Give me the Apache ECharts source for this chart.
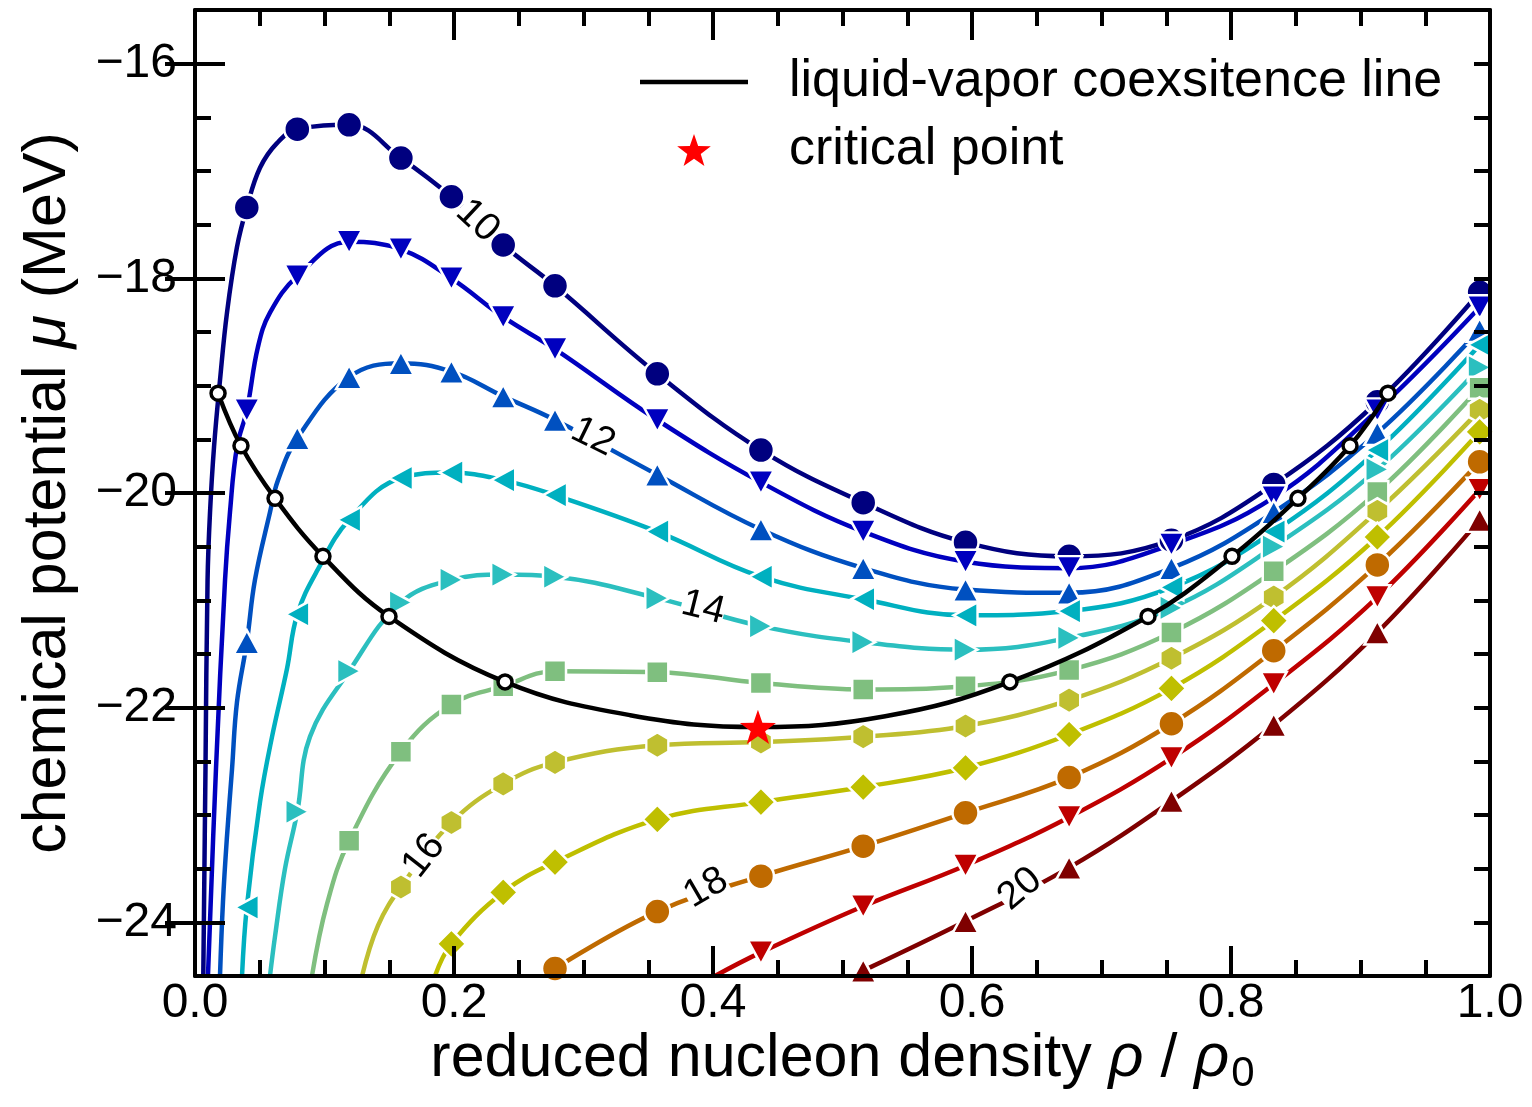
<!DOCTYPE html>
<html>
<head>
<meta charset="utf-8">
<script src="https://cdn.jsdelivr.net/npm/echarts@6/dist/echarts.min.js"></script>
<style>html,body{margin:0;padding:0;background:#fff}#chart{width:1532px;height:1107px}</style>
</head>
<body>
<div id="chart"></div>
<script>
// ---------------- data ----------------
const densities = [0.040, 0.079, 0.119, 0.159, 0.198, 0.238, 0.278, 0.357, 0.437, 0.516, 0.595, 0.675, 0.754, 0.833, 0.913, 0.992];
const temperatures = [10, 11, 12, 13, 14, 15, 16, 17, 18, 19, 20];

const mu10 = [-17.34, -16.61, -16.57, -16.88, -17.24, -17.69, -18.07, -18.89, -19.60, -20.09, -20.46, -20.59, -20.44, -19.92, -19.15, -18.13];
const mu11 = [-19.23, -17.98, -17.66, -17.73, -18.00, -18.36, -18.66, -19.32, -19.90, -20.36, -20.64, -20.70, -20.48, -20.04, -19.23, -18.27];
const mu12 = [-21.39, -19.49, -18.92, -18.79, -18.87, -19.10, -19.32, -19.83, -20.34, -20.70, -20.90, -20.93, -20.70, -20.18, -19.44, -18.48];
const mu13 = [-23.86, -21.13, -20.25, -19.86, -19.81, -19.88, -20.02, -20.36, -20.78, -20.99, -21.14, -21.10, -20.88, -20.36, -19.60, -18.62];
const mu14 = [null, -22.97, -21.66, -21.02, -20.81, -20.76, -20.78, -20.98, -21.24, -21.39, -21.46, -21.35, -21.07, -20.50, -19.78, -18.83];
const mu15 = [null, null, -23.24, -22.41, -21.97, -21.80, -21.66, -21.67, -21.77, -21.83, -21.80, -21.65, -21.30, -20.73, -19.99, -19.02];
const mu16 = [null, null, null, -23.67, -23.07, -22.71, -22.51, -22.35, -22.32, -22.27, -22.17, -21.93, -21.54, -20.97, -20.17, -19.23];
const mu17 = [null, null, null, null, -24.20, -23.72, -23.44, -23.04, -22.88, -22.74, -22.56, -22.25, -21.82, -21.19, -20.41, -19.43];
const mu18 = [null, null, null, null, null, null, -24.43, -23.90, -23.57, -23.29, -22.98, -22.65, -22.15, -21.47, -20.67, -19.71];
const mu19 = [null, null, null, null, null, null, null, null, -24.28, -23.85, -23.47, -23.02, -22.47, -21.78, -20.97, -19.97];
const mu20 = [null, null, null, null, null, null, null, null, null, -24.45, -23.99, -23.49, -22.87, -22.16, -21.30, -20.25];

// curve points read between / before the marked densities (no marker drawn)
const curve10 = [[0.0064, -24.50], [0.0081, -22.57], [0.0097, -20.81], [0.0116, -20.18], [0.0147, -19.57], [0.0193, -18.95], [0.0247, -18.32], [0.0324, -17.71], [0.0502, -16.97], [0.0633, -16.74]];
const curve11 = [[0.0100, -24.50], [0.0162, -22.57], [0.0232, -20.81], [0.0270, -20.18], [0.0324, -19.57], [0.0486, -18.64], [0.0579, -18.32]];
const curve12 = [[0.0193, -24.50], [0.0216, -23.81], [0.0247, -23.20], [0.0286, -22.57], [0.0324, -21.95], [0.0463, -20.81], [0.0579, -20.18], [0.0641, -19.88]];
const curve13 = [[0.0363, -24.50], [0.0502, -22.88], [0.0595, -22.27], [0.0710, -21.64], [0.0950, -20.71]];
const curve14 = [[0.0579, -24.50], [0.0618, -24.13], [0.0695, -23.50], [0.0888, -22.27]];
const curve15 = [[0.0903, -24.50], [0.1019, -23.83]];
const curve16 = [[0.1290, -24.50], [0.1413, -24.03]];
const curve17 = [[0.1853, -24.50]];
const curve18 = [];
const curve19 = [[0.4015, -24.50]];
const curve20 = [];

// liquid-vapor coexistence line (marked points) and the unmarked points along its bottom
const coexDensity = [0.0178, 0.0355, 0.0618, 0.0988, 0.1498, 0.2394, 0.6293, 0.7359, 0.8008, 0.8517, 0.8919, 0.9212];
const coexMu = [-19.07, -19.56, -20.05, -20.59, -21.15, -21.76, -21.76, -21.15, -20.59, -20.05, -19.56, -19.07];
const coexCurveDensity = [0.3360, 0.4347, 0.5330];
const coexCurveMu = [-22.07, -22.18, -22.08];
const criticalPoint = [0.4347, -22.18];

// contour labels (temperature in MeV) placed on the curves
const contourText = ['10', '12', '14', '16', '18', '20'];
const contourDensity = [0.2182, 0.3073, 0.3923, 0.1768, 0.3946, 0.6371];
const contourMu = [-17.465, -19.48, -21.07, -23.38, -23.68, -23.69];

const xTickValues = [0, 0.2, 0.4, 0.6, 0.8, 1.0];
const yTickValues = [-24, -22, -20, -18, -16];
const legendNames = ['liquid-vapor coexsitence line', 'critical point'];

// ---------------- styles ----------------
const FONT = '"Liberation Sans", Arial, Helvetica, sans-serif';
const colors = ['#00007f', '#0000bf', '#0050c0', '#00b0c0', '#2bbfbf', '#7fbf7f', '#bfbf30', '#bfbf00', '#bf6a00', '#bf0000', '#7f0000'];
const HEX = 'path://M0,-1L0.866,-0.5L0.866,0.5L0,1L-0.866,0.5L-0.866,-0.5Z';
function starPath() {
  let s = 'path://';
  for (let k = 0; k < 10; k++) {
    const r = k % 2 ? 0.40 : 1;
    const a = -Math.PI / 2 + k * Math.PI / 5;
    s += (k ? 'L' : 'M') + (r * Math.cos(a)).toFixed(4) + ',' + (r * Math.sin(a)).toFixed(4);
  }
  return s + 'Z';
}
const STAR = starPath();
const markerStyles = [
  { symbol: 'circle', size: 26, rotate: 0 },
  { symbol: 'triangle', size: [26, 24], rotate: 180 },
  { symbol: 'triangle', size: [26, 24], rotate: 0 },
  { symbol: 'triangle', size: [26, 24], rotate: 90 },
  { symbol: 'triangle', size: [26, 24], rotate: -90 },
  { symbol: 'rect', size: 22, rotate: 0 },
  { symbol: HEX, size: [22, 26], rotate: 0 },
  { symbol: 'diamond', size: 29, rotate: 0 },
  { symbol: 'circle', size: 26, rotate: 0 },
  { symbol: 'triangle', size: [26, 24], rotate: 180 },
  { symbol: 'triangle', size: [26, 24], rotate: 0 }
];
const labelAngles = [-43, -26, -14, 52, 30, 40];

const muSets = [mu10, mu11, mu12, mu13, mu14, mu15, mu16, mu17, mu18, mu19, mu20];
const curveSets = [curve10, curve11, curve12, curve13, curve14, curve15, curve16, curve17, curve18, curve19, curve20];

function buildData(mu, extra) {
  const pts = [];
  mu.forEach((v, i) => { if (v !== null) pts.push({ value: [densities[i], v] }); });
  extra.forEach(p => pts.push({ value: p, symbol: 'none' }));
  pts.sort((a, b) => a.value[0] - b.value[0]);
  return pts;
}

const series = [{
  type: 'scatter',
  name: 'contour labels',
  data: contourText.map((t, i) => ({ name: t, value: [contourDensity[i], contourMu[i]], label: { rotate: labelAngles[i] } })),
  symbol: 'circle',
  symbolSize: 0,
  itemStyle: { color: 'rgba(0,0,0,0)', opacity: 1 },
  silent: true,
  z: 7,
  label: {
    show: true, position: 'inside', formatter: p => p.name,
    fontSize: 39, fontFamily: FONT, color: '#000', opacity: 1, lineHeight: 26,
    backgroundColor: '#fff', padding: [0, 0]
  }
}];

temperatures.forEach((t, i) => series.push({
  type: 'line',
  name: 'T = ' + t + ' MeV',
  data: buildData(muSets[i], curveSets[i]),
  smooth: 0.4,
  clip: true,
  symbol: markerStyles[i].symbol,
  symbolSize: markerStyles[i].size,
  symbolRotate: markerStyles[i].rotate,
  showSymbol: true,
  lineStyle: { color: colors[i], width: 4.5 },
  itemStyle: { color: colors[i], borderColor: '#ffffff', borderWidth: 2.5, opacity: 1 },
  emphasis: { disabled: true },
  z: 2
}));

const coexData = [];
coexDensity.forEach((x, i) => coexData.push({ value: [x, coexMu[i]] }));
coexCurveDensity.forEach((x, i) => coexData.push({ value: [x, coexCurveMu[i]], symbol: 'none' }));
coexData.sort((a, b) => a.value[0] - b.value[0]);

series.push({
  type: 'line',
  name: legendNames[0],
  data: coexData,
  smooth: 0.4,
  symbol: 'circle',
  symbolSize: 14,
  lineStyle: { color: '#000', width: 4.5 },
  itemStyle: { color: '#fff', borderColor: '#000', borderWidth: 3.5, opacity: 1 },
  emphasis: { disabled: true },
  z: 5
});
series.push({
  type: 'scatter',
  name: legendNames[1],
  data: [criticalPoint],
  symbol: STAR,
  symbolSize: 36,
  symbolKeepAspect: true,
  itemStyle: { color: '#ff0000', opacity: 1 },
  emphasis: { disabled: true },
  z: 6
});

const axisLineStyle = { color: '#000', width: 4 };
const nameRich = {
  n: { fontSize: 61, fontFamily: FONT, color: '#000', lineHeight: 72, verticalAlign: 'middle' },
  it: { fontSize: 61, fontFamily: FONT, fontStyle: 'italic', color: '#000', lineHeight: 72, verticalAlign: 'middle' },
  sub: { fontSize: 42, fontFamily: FONT, color: '#000', lineHeight: 42, padding: [30, 0, 0, 2], verticalAlign: 'top' }
};
const fmtY = v => (v < 0 ? '\u2212' : '') + Math.abs(v);

const option = {
  animation: false,
  backgroundColor: '#fff',
  grid: { left: 195, right: 42, top: 10, bottom: 131, containLabel: false, outerBoundsMode: 'none' },
  legend: {
    orient: 'vertical', left: 635, top: 51,
    itemWidth: 108, itemHeight: 32, itemGap: 16,
    selectedMode: false,
    textStyle: { fontSize: 52, fontFamily: FONT, color: '#000', lineHeight: 52, padding: [0, 0, 0, 36] },
    data: [
      { name: legendNames[0], icon: 'path://M0,0H108V4.5H0Z', itemStyle: { color: '#000', borderWidth: 0, opacity: 1 } },
      { name: legendNames[1], icon: STAR, itemStyle: { color: '#ff0000', borderWidth: 0, opacity: 1 } }
    ]
  },
  xAxis: [
    {
      type: 'value', position: 'bottom', min: 0, max: 1, interval: 0.2, z: 10,
      axisLine: { show: true, onZero: false, lineStyle: axisLineStyle },
      axisTick: { show: true, inside: true, length: 30, lineStyle: axisLineStyle },
      minorTick: { show: true, splitNumber: 4, length: 16, lineStyle: axisLineStyle },
      axisLabel: { fontSize: 48, fontFamily: FONT, color: '#000', margin: 4, formatter: v => v.toFixed(1), customValues: xTickValues },
      splitLine: { show: false }, minorSplitLine: { show: false },
      name: '{n|reduced nucleon density }{it|\u03c1}{n| / }{it|\u03c1}{sub|0}',
      nameLocation: 'middle', nameGap: 47, nameMoveOverlap: false,
      nameTextStyle: { fontSize: 61, fontFamily: FONT, color: '#000', lineHeight: 72, rich: nameRich }
    },
    {
      type: 'value', position: 'top', min: 0, max: 1, interval: 0.2, z: 10,
      axisLine: { show: true, onZero: false, lineStyle: axisLineStyle },
      axisTick: { show: true, inside: true, length: 30, lineStyle: axisLineStyle },
      minorTick: { show: true, splitNumber: 4, length: 16, lineStyle: axisLineStyle },
      axisLabel: { show: false }, splitLine: { show: false }, minorSplitLine: { show: false }
    }
  ],
  yAxis: [
    {
      type: 'value', position: 'left', min: -24.5, max: -15.5, interval: 0.5, z: 10,
      axisLine: { show: true, onZero: false, lineStyle: axisLineStyle },
      axisTick: { show: true, inside: true, length: 16, lineStyle: axisLineStyle },
      axisLabel: { show: false }, splitLine: { show: false }
    },
    {
      type: 'value', position: 'left', min: -24.5, max: -15.5, interval: 0.5, z: 10,
      axisLine: { show: false },
      axisTick: { show: true, inside: true, length: 30, lineStyle: axisLineStyle, customValues: yTickValues },
      axisLabel: { show: true, fontSize: 48, fontFamily: FONT, color: '#000', margin: 18, formatter: fmtY, customValues: yTickValues },
      splitLine: { show: false },
      name: '{n|chemical potential }{it|\u03bc}{n| (MeV)}',
      nameLocation: 'middle', nameGap: 111,
      nameTextStyle: { fontSize: 61, fontFamily: FONT, color: '#000', lineHeight: 72, rich: nameRich }
    },
    {
      type: 'value', position: 'right', min: -24.5, max: -15.5, interval: 0.5, z: 10,
      axisLine: { show: true, onZero: false, lineStyle: axisLineStyle },
      axisTick: { show: true, inside: true, length: 16, lineStyle: axisLineStyle },
      axisLabel: { show: false }, splitLine: { show: false }
    },
    {
      type: 'value', position: 'right', min: -24.5, max: -15.5, interval: 0.5, z: 10,
      axisLine: { show: false },
      axisTick: { show: true, inside: true, length: 30, lineStyle: axisLineStyle, customValues: yTickValues },
      axisLabel: { show: false }, splitLine: { show: false }
    }
  ],
  series: series
};

const chart = echarts.init(document.getElementById('chart'), null, { renderer: 'canvas' });
chart.setOption(option);
</script>
</body>
</html>
